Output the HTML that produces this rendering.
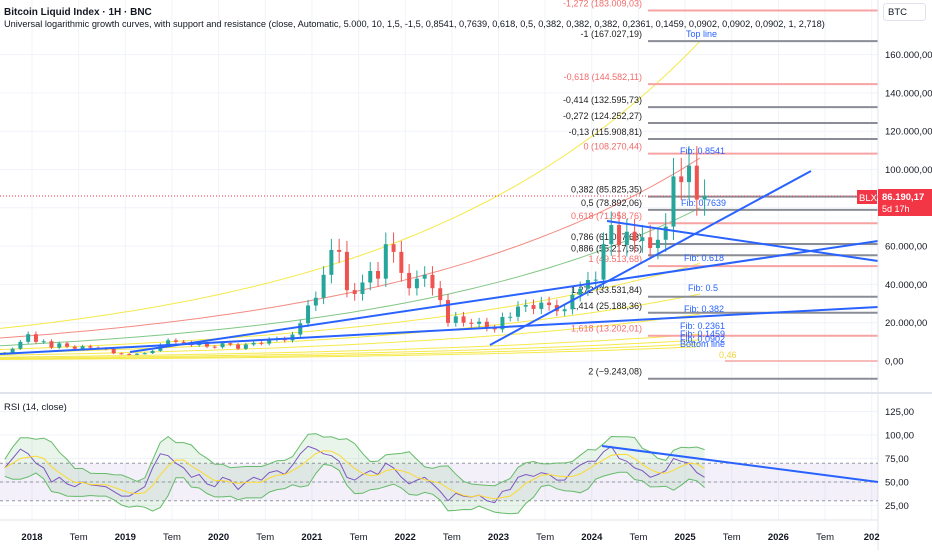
<!DOCTYPE html>
<html><head><meta charset="utf-8"><style>
html,body{margin:0;padding:0;background:#fff;}
body{width:932px;height:550px;overflow:hidden;font-family:"Liberation Sans",sans-serif;}
svg text{font-family:"Liberation Sans",sans-serif;}
</style></head><body>
<svg id="c" width="932" height="550" xmlns="http://www.w3.org/2000/svg"></svg>
<script>
// ---------- DATA ----------
const startYear = 2017.667; // Sep 2017
const closes = [4.3,6.4,10,14,
10,10.3,7,9.2,7.5,6.4,7.7,7,6.6,6.3,4,3.7,
3.4,3.8,4.1,5.3,8.5,10.8,10,9.6,8.3,9.2,7.5,7.2,
9.3,8.6,6.4,8.6,9.5,9.1,11.3,11.6,10.8,13.8,19.7,29,
33,45,58,57,37,35,41,47,43,61,57,46,
38,43,45,38,31.8,19.9,23.3,20,19.4,20.5,17.2,16.5,
23,23.1,28.4,29.2,27.2,30.5,29.2,26,27,34.6,37.7,42.3,
42.5,61,71,60.6,67.5,62.7,64.6,59,63.3,70.2,96.4,93.4,
102,84.3,86.2];
const rsi = [65,75,85,80,
70,65,50,55,48,45,50,47,46,45,40,35,
35,40,45,65,80,78,70,65,55,58,48,45,
55,52,42,50,55,52,60,62,58,68,80,88,
85,80,78,72,55,52,58,62,58,70,65,55,
48,52,55,48,40,30,38,35,34,36,30,28,
40,42,55,58,56,60,58,52,52,62,68,72,
72,82,88,75,72,65,62,55,58,62,75,72,
70,60,55];
const fibLevels = ["-1,272","-1","-0,618","-0,414","-0,272","-0,13","0","0,382","0,5","0,618","0,786","0,886","1","1,272","1,414","1,618","2"];
const fibValues = [183009.03,167027.19,144582.11,132595.73,124252.27,115908.81,108270.44,85825.35,78892.06,71958.76,61087.63,55217.95,49513.68,33531.84,25188.36,13202.01,-9243.08];
const fibLabelText = ["183.009,03","167.027,19","144.582,11","132.595,73","124.252,27","115.908,81","108.270,44","85.825,35","78.892,06","71.958,76","61.087,63","55.217,95","49.513,68","33.531,84","25.188,36","13.202,01","−9.243,08"];
const fibRed = [1,0,1,0,0,0,1,0,0,1,0,0,1,0,0,1,0];
const priceTicks = [0,20000,40000,60000,80000,100000,120000,140000,160000];
const priceTickLabels = ["0,00","20.000,00","40.000,00","60.000,00","","100.000,00","120.000,00","140.000,00","160.000,00"];
const rsiTicks = [25,50,75,100,125];
const rsiTickLabels = ["25,00","50,00","75,00","100,00","125,00"];
const timeTicks = [2018,2018.5,2019,2019.5,2020,2020.5,2021,2021.5,2022,2022.5,2023,2023.5,2024,2024.5,2025,2025.5,2026,2026.5,2027];
const timeLabels = ["2018","Tem","2019","Tem","2020","Tem","2021","Tem","2022","Tem","2023","Tem","2024","Tem","2025","Tem","2026","Tem","202"];
const curveStart = [17000,12000,8000,6000,4200,3000,2000,1500,1100,800];
const curveEnd = [167000,106000,80000,51000,35000,24500,14000,11000,9000,7500];
const curveColor = ["#f5e94a","#f28b82","#81c784","#f5e94a","#f5e94a","#f5e94a","#f5e94a","#f5e94a","#f5e94a","#f5e94a"];

// ---------- AXES ----------
const X = t => 32 + (t-2018)*93.3;
const Y = v => 361 - v*0.001915;
const RY = v => 482 - (v-50)*0.94;
const svg = document.getElementById('c');
const NS = 'http://www.w3.org/2000/svg';
function mk(tag, attrs, parent){const e=document.createElementNS(NS,tag);for(const k in attrs)e.setAttribute(k,attrs[k]);(parent||svg).appendChild(e);return e;}
function txt(s,attrs,parent){const e=mk('text',attrs,parent);e.textContent=s;return e;}

const grid = mk('g',{});


timeTicks.forEach(t=>{mk('line',{x1:X(t),x2:X(t),y1:0,y2:520,stroke:'#f0f3fa'},grid);});
priceTicks.forEach(v=>{mk('line',{x1:0,x2:878,y1:Y(v),y2:Y(v),stroke:'#f0f3fa'},grid);});
rsiTicks.forEach(v=>{mk('line',{x1:0,x2:878,y1:RY(v),y2:RY(v),stroke:'#f0f3fa'},grid);});

const curves = mk('g',{fill:'none'});


curveStart.forEach((s,i)=>{
  const k=Math.log(curveEnd[i]/s)/700; let d='';
  for(let x=0;x<=700;x+=10){d+=(x?'L':'M')+x+','+Y(s*Math.exp(k*x)).toFixed(1);}
  const p=mk('path',{d:d,stroke:curveColor[i],'stroke-width':1},curves);
  
  
});

const fibs = mk('g',{});


fibValues.forEach((v,i)=>{
  const l=mk('line',{x1:648,x2:878,y1:Y(v),y2:Y(v),stroke:fibRed[i]?'#f7a3a3':'#8a8d96','stroke-width':2},fibs);
  
  
  const t=txt(fibLevels[i]+' ('+fibLabelText[i]+')',{x:642,y:Y(v)-4,'font-size':9,'text-anchor':'end',fill:fibRed[i]?'#f26b6b':'#222'},fibs);
  
  
});
mk('line',{x1:725,x2:878,y1:Y(0),y2:Y(0),stroke:'#f7a3a3','stroke-width':1.5});
txt('0,46',{x:719,y:358,'font-size':9,fill:'#f5d33a'});

mk('line',{x1:0,x2:878,y1:Y(86190),y2:Y(86190),stroke:'#f23645','stroke-dasharray':'1 2','stroke-width':1});

const cg = mk('g',{});


closes.forEach((c,i)=>{
  const o=i?closes[i-1]:c*0.85; const x=X(startYear+i/12)+3.9;
  const hi=Math.max(o,c)*1.1, lo=Math.min(o,c)*0.9;
  const col=c>=o?'#26a69a':'#ef5350';
  mk('line',{x1:x,x2:x,y1:Y(hi*1000),y2:Y(lo*1000),stroke:col,'stroke-width':1},cg);
  const r=mk('rect',{x:x-2,y:Y(Math.max(o,c)*1000),width:4,height:Math.max(1,Math.abs(Y(o*1000)-Y(c*1000))),fill:col},cg);
  
  
});

const tl=[[0,354,878,307],[130,352,878,241],[490,345,811,171],[607,221,878,261]];
tl.forEach(a=>{const l=mk('line',{x1:a[0],y1:a[1],x2:a[2],y2:a[3],stroke:'#2962ff','stroke-width':2});
 
 });

[['Fib: 0.8541',680,154],['Fib: 0.7639',681,206],['Fib: 0.618',684,261],['Fib: 0.5',688,291],['Fib: 0.382',684,312],['Fib: 0.2361',680,329],['Fib: 0.1459',680,337],['Fib: 0.0902',680,342],['Bottom line',680,347],['Top line',686,37]].forEach(a=>{
 const t=txt(a[0],{x:a[1],y:a[2],'font-size':9,fill:'#2962ff'});
 
 
});

const t1=txt('Bitcoin Liquid Index · 1H · BNC',{x:4,y:15,'font-size':10,'font-weight':'bold',fill:'#131722'});

const t2=txt('Universal logarithmic growth curves, with support and resistance (close, Automatic, 5.000, 10, 1,5, -1,5, 0,8541, 0,7639, 0,618, 0,5, 0,382, 0,382, 0,382, 0,2361, 0,1459, 0,0902, 0,0902, 0,0902, 1, 2,718)',{x:4,y:27,'font-size':9.2,fill:'#131722'});


mk('line',{x1:0,x2:932,y1:393,y2:393,stroke:'#e0e3eb','stroke-width':2});
mk('line',{x1:878,x2:878,y1:0,y2:550,stroke:'#e0e3eb'});
mk('line',{x1:0,x2:878,y1:520,y2:520,stroke:'#e0e3eb'});

const rg=mk('g',{});


mk('rect',{x:0,y:RY(70),width:878,height:RY(30)-RY(70),fill:'#7e57c2','fill-opacity':0.09},rg);
[70,50,30].forEach(v=>mk('line',{x1:0,x2:878,y1:RY(v),y2:RY(v),stroke:'#9598a1','stroke-dasharray':'3 3'},rg));
const ma=rsi.map((v,i)=>{const s=rsi.slice(Math.max(0,i-3),i+1);return s.reduce((a,b)=>a+b,0)/s.length;});
const sd=rsi.map((v,i)=>{const s=rsi.slice(Math.max(0,i-3),i+1);const m=ma[i];return Math.sqrt(s.reduce((a,b)=>a+(b-m)*(b-m),0)/s.length)*1.6+9;});
const px=i=>X(startYear+i/12)+3.9;
let up='',dn='';
ma.forEach((m,i)=>{up+=(i?'L':'M')+px(i).toFixed(1)+','+RY(m+sd[i]).toFixed(1);});
for(let i=ma.length-1;i>=0;i--)dn+='L'+px(i).toFixed(1)+','+RY(ma[i]-sd[i]).toFixed(1);
const band=mk('path',{d:up+dn+'Z',fill:'#4caf50','fill-opacity':0.12,stroke:'none'},rg);

mk('path',{d:up,fill:'none',stroke:'#66bb6a','stroke-width':1},rg);
mk('path',{d:'M'+dn.slice(1),fill:'none',stroke:'#66bb6a','stroke-width':1},rg);
let rl='',ml='';
rsi.forEach((v,i)=>{rl+=(i?'L':'M')+px(i).toFixed(1)+','+RY(v).toFixed(1);ml+=(i?'L':'M')+px(i).toFixed(1)+','+RY(ma[i]).toFixed(1);});
const rline=mk('path',{d:rl,fill:'none',stroke:'#7e57c2','stroke-width':1},rg);

const mline=mk('path',{d:ml,fill:'none',stroke:'#fdd835','stroke-width':1},rg);

const rt=mk('line',{x1:602,y1:446,x2:878,y2:482,stroke:'#2962ff','stroke-width':2});

const rtl=txt('RSI (14, close)',{x:4,y:410,'font-size':9.5,fill:'#131722'});


priceTicks.forEach((v,i)=>{const t=txt(priceTickLabels[i],{x:885,y:Y(v)+3.5,'font-size':9.5,fill:'#131722'});
 });
rsiTicks.forEach((v,i)=>{const t=txt(rsiTickLabels[i],{x:885,y:RY(v)+3.5,'font-size':9.5,fill:'#131722'});
 });
timeTicks.forEach((t,i)=>{const e=txt(timeLabels[i],{x:X(t),y:540,'font-size':9.5,'text-anchor':'middle','font-weight':(i%2?'normal':'bold'),fill:'#131722'});
 });

const bb=mk('g',{});
mk('rect',{x:883.5,y:3.5,width:42,height:17,rx:3,fill:'#fff',stroke:'#e0e3eb'},bb);
txt('BTC',{x:888,y:15,'font-size':9.5,fill:'#131722'},bb);
const pt=mk('g',{});
mk('rect',{x:857,y:190,width:20,height:14,fill:'#f23645'},pt);
txt('BLX',{x:859,y:201,'font-size':9.5,fill:'#fff'},pt);
mk('rect',{x:878,y:189,width:54,height:27,fill:'#f23645'},pt);
txt('86.190,17',{x:882,y:200,'font-size':9.5,'font-weight':'bold',fill:'#fff'},pt);
txt('5d 17h',{x:882,y:212,'font-size':9,fill:'#fff'},pt);
</script>
</body></html>
